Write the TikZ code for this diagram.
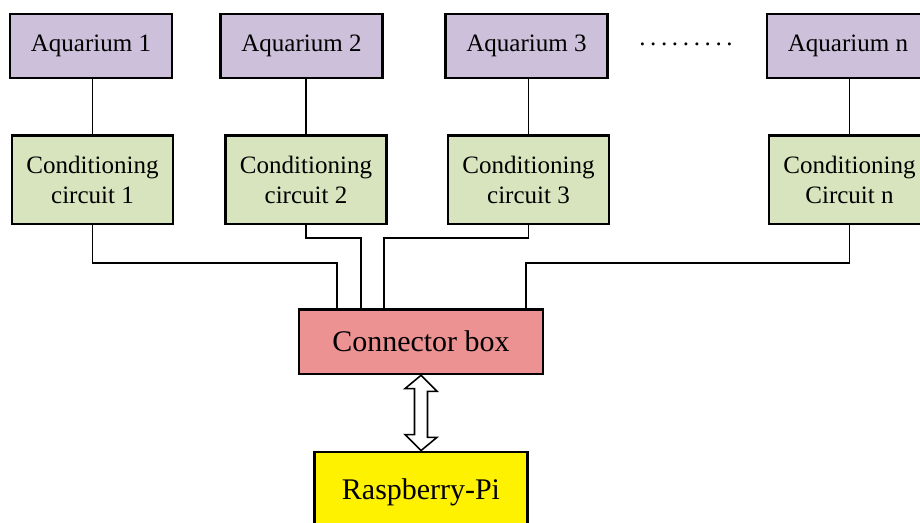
\documentclass[tikz,border=0pt]{standalone}
\usepackage{fontspec}
\setmainfont{Liberation Serif}
\definecolor{aquafill}{RGB}{204,192,218}
\definecolor{condfill}{RGB}{215,228,189}
\definecolor{connfill}{RGB}{236,146,146}
\tikzset{
  box/.style={draw, line width=2pt, align=center, inner sep=0pt},
  aquabox/.style={box, fill=aquafill, minimum width=4.05cm, minimum height=1.6cm, font=\fontsize{17.8}{21.3}\selectfont},
  condbox/.style={box, fill=condfill, minimum width=4.02cm, minimum height=2.22cm, font=\fontsize{17.8}{21.3}\selectfont},
  connbox/.style={box, fill=connfill, minimum width=6.1cm, minimum height=1.62cm, font=\fontsize{21.3}{25}\selectfont},
  pibox/.style={box, fill=yellow, minimum width=5.32cm, minimum height=2cm, font=\fontsize{21.3}{25}\selectfont},
  wire/.style={line width=1.1pt},
  bus/.style={draw, line width=1.1pt, fill=white, line join=miter}
}
\begin{document}
\begin{tikzpicture}[x=0.025cm,y=-0.025cm]
  \useasboundingbox (0,0) rectangle (920,522);
  \node[aquabox] (A1) at (91,46) {Aquarium 1};
  \node[aquabox] (A2) at (301.5,46) {Aquarium 2};
  \node[aquabox] (A3) at (526.5,46) {Aquarium 3};
  \node[aquabox] (An) at (848,46) {Aquarium n};
  \node[font=\fontsize{17.8}{21.3}\selectfont] (dots) at (686,44) {.\kern3.3pt.\kern3.3pt.\kern3.3pt.\kern3.3pt.\kern3.3pt.\kern3.3pt.\kern3.3pt.\kern3.3pt.};
  \node[condbox] (C1) at (92.5,179.5) {Conditioning\\circuit 1};
  \node[condbox] (C2) at (306,179.5) {Conditioning\\circuit 2};
  \node[condbox] (C3) at (528.5,179.5) {Conditioning\\circuit 3};
  \node[condbox] (Cn) at (849.5,179.5) {Conditioning\\Circuit n};
  \node[connbox] (CB) at (421,341.5) {Connector box};
  \node[pibox] (RP) at (421,492) {Raspberry-Pi};
  \foreach \i in {1,2,3,n}
    \draw[wire] (C\i.north |- A\i.south) -- (C\i.north);
  \coordinate (k1) at (337,263);
  \coordinate (k2) at (361,238);
  \coordinate (k3) at (384,238);
  \coordinate (kn) at (526,263);
  \foreach \i in {1,2,3,n}
    \draw[wire] (C\i.south) |- (k\i) -- (k\i |- CB.north);
  \draw[bus] (CB.south) -- ++(16,16) -- ++(-9.5,0) -- ++(0,46) -- ++(9.5,0) -- (RP.north)
    -- ++(-16,-16) -- ++(9.5,0) -- ++(0,-46) -- ++(-9.5,0) -- cycle;
\end{tikzpicture}
\end{document}
